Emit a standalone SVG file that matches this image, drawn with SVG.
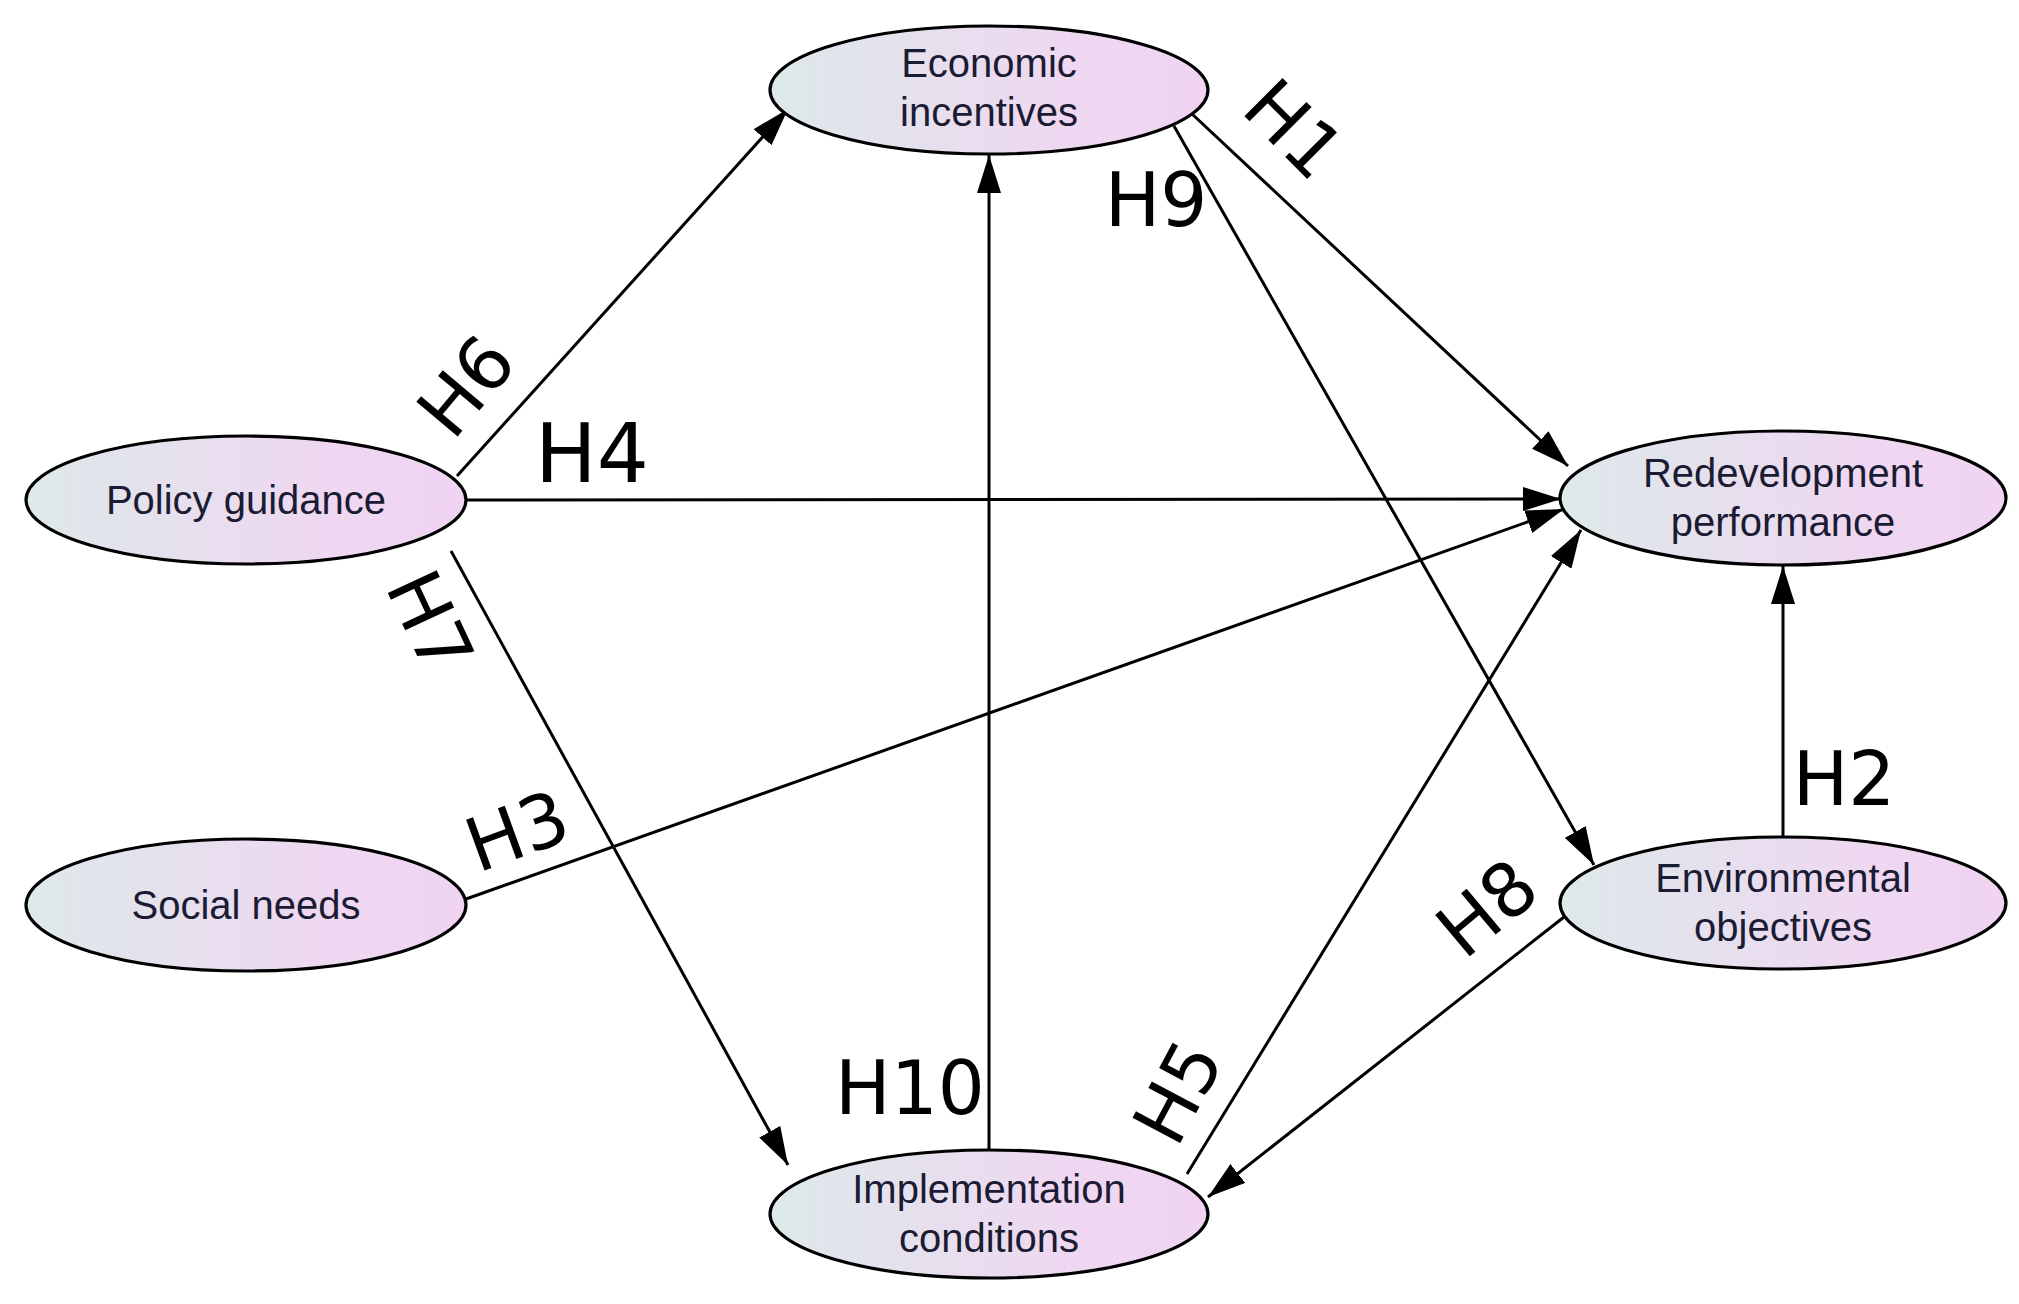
<svg xmlns="http://www.w3.org/2000/svg" width="2019" height="1304" viewBox="0 0 2019 1304">
<style>
.node ellipse{fill:url(#g);stroke:#000;stroke-width:3.2}
.node text{font-family:"Liberation Sans",Arial,sans-serif;font-size:40px;fill:#1b1b33;text-anchor:middle}
.edge{stroke:#000;stroke-width:3;fill:none;marker-end:url(#arr)}
.lbl{font-family:"DejaVu Sans",sans-serif;font-size:74px;fill:#000;text-anchor:middle;dominant-baseline:central}
</style>
<defs>
<linearGradient id="g" x1="0" y1="0" x2="1" y2="0">
<stop offset="0" stop-color="#dde9ea"/>
<stop offset="0.7" stop-color="#efd7f1"/>
<stop offset="1" stop-color="#f0d4f2"/>
</linearGradient>
<marker id="arr" viewBox="0 0 38 24" refX="38" refY="12" markerWidth="38" markerHeight="24" markerUnits="userSpaceOnUse" orient="auto">
<path d="M0,0 L38,12 L0,24 z" fill="#000"/>
</marker>
</defs>
<rect width="2019" height="1304" fill="#fff"/>
<g id="connectors">
<line class="edge" x1="457" y1="476" x2="788" y2="109"/>
<line class="edge" x1="466" y1="500" x2="1561" y2="499"/>
<line class="edge" x1="451" y1="551" x2="788" y2="1165"/>
<line class="edge" x1="466" y1="899" x2="1564" y2="509"/>
<line class="edge" x1="989" y1="1150" x2="989" y2="155"/>
<line class="edge" x1="1191" y1="113" x2="1568" y2="466"/>
<line class="edge" x1="1174" y1="126" x2="1594" y2="865"/>
<line class="edge" x1="1187" y1="1174" x2="1581" y2="530"/>
<line class="edge" x1="1564" y1="917" x2="1208" y2="1197"/>
<line class="edge" x1="1783" y1="837" x2="1783" y2="566"/>
</g>
<g id="labels">
<text class="lbl" transform="translate(466,386) rotate(-50)">H6</text>
<text class="lbl" x="592" y="453" style="font-size:82px">H4</text>
<text class="lbl" transform="translate(430,622) rotate(65)">H7</text>
<text class="lbl" transform="translate(517,831) rotate(-20)">H3</text>
<text class="lbl" transform="translate(1294,129) rotate(45)">H1</text>
<text class="lbl" x="1156" y="200">H9</text>
<text class="lbl" x="910" y="1088">H10</text>
<text class="lbl" transform="translate(1178,1092) rotate(-62)">H5</text>
<text class="lbl" transform="translate(1487,908) rotate(-40)">H8</text>
<text class="lbl" x="1844" y="779">H2</text>
</g>
<g id="economic" class="node">
<ellipse cx="989" cy="90" rx="219" ry="64"/>
<text x="989" y="77">Economic</text>
<text x="989" y="126">incentives</text>
</g>
<g id="policy" class="node">
<ellipse cx="246" cy="500" rx="220" ry="64"/>
<text x="246" y="514">Policy guidance</text>
</g>
<g id="social" class="node">
<ellipse cx="246" cy="905" rx="220" ry="66"/>
<text x="246" y="919">Social needs</text>
</g>
<g id="redevelopment" class="node">
<ellipse cx="1783" cy="498" rx="223" ry="67"/>
<text x="1783" y="487">Redevelopment</text>
<text x="1783" y="536">performance</text>
</g>
<g id="environmental" class="node">
<ellipse cx="1783" cy="903" rx="223" ry="66"/>
<text x="1783" y="892">Environmental</text>
<text x="1783" y="941">objectives</text>
</g>
<g id="implementation" class="node">
<ellipse cx="989" cy="1214" rx="219" ry="64"/>
<text x="989" y="1203">Implementation</text>
<text x="989" y="1252">conditions</text>
</g>
</svg>
